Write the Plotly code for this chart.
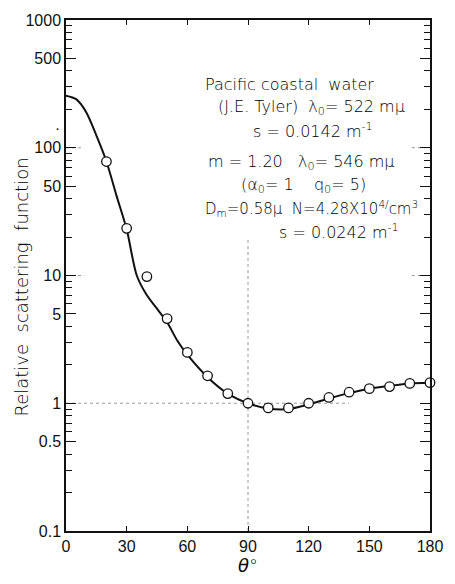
import plotly.graph_objects as go

# ---- data ----
curve_theta = [0, 5, 10, 15, 20, 25, 30, 35, 40, 45, 50, 55, 60, 70, 80, 90, 100, 110, 120, 130, 140, 150, 160, 170, 180]
curve_value = [256, 240, 190, 125, 78, 42, 23, 10, 7.0, 5.5, 4.3, 3.1, 2.4, 1.6, 1.19, 1.0, 0.91, 0.90, 0.98, 1.09, 1.2, 1.3, 1.37, 1.43, 1.45]

obs_theta = [20, 30, 40, 50, 60, 70, 80, 90, 100, 110, 120, 130, 140, 150, 160, 170, 180]
obs_value = [78, 23.4, 9.8, 4.6, 2.5, 1.64, 1.19, 1.0, 0.92, 0.92, 1.0, 1.11, 1.22, 1.30, 1.35, 1.43, 1.45]

x_ticks = [0, 30, 60, 90, 120, 150, 180]
y_ticks = [0.1, 0.5, 1, 5, 10, 50, 100, 500, 1000]
y_ticktext = ["0.1", "0.5", "1", "5", "10", "50", "100", "500", "1000"]
y_minor = [m * 10 ** e for e in (-1, 0, 1, 2) for m in (2, 3, 4, 6, 7, 8, 9)]

text_lines = [
    "Pacific coastal  water",
    "(J.E. Tyler)  λ<sub>0</sub>= 522 mμ",
    "s = 0.0142 m<sup>-1</sup>",
    "m = 1.20   λ<sub>0</sub>= 546 mμ",
    "(α<sub>0</sub>= 1    q<sub>0</sub>= 5)",
    "D<sub>m</sub>=0.58μ  N=4.28X10<sup>4/</sup>cm<sup>3</sup>",
    "s = 0.0242 m<sup>-1</sup>",
]
# (center x pixel, y pixel, font size) of the text lines
text_pos = [(296, 81, 16), (318, 104, 16), (320, 127, 16), (308, 160, 16),
            (310, 183, 16), (318, 207, 15), (346, 230, 16)]

TXT_FONT = "DejaVu Sans"
TICK_FONT = "Liberation Sans"
INK = "#111111"

fig = go.Figure()

# faint guide lines
guide = dict(color="#9a9a9a", width=1, dash="dot")
fig.add_shape(type="line", x0=90, x1=90, y0=0.1, y1=19, xref="x", yref="y", line=guide, layer="below")
fig.add_shape(type="line", x0=0, x1=140, y0=1, y1=1, xref="x", yref="y", line=guide, layer="below")
fig.add_shape(type="line", x0=0, x1=9, y0=100, y1=100, xref="x", yref="y", line=guide, layer="below")
fig.add_shape(type="line", x0=0, x1=9, y0=10, y1=10, xref="x", yref="y", line=guide, layer="below")
fig.add_shape(type="line", x0=171, x1=180, y0=100, y1=100, xref="x", yref="y", line=guide, layer="below")
fig.add_shape(type="line", x0=171, x1=180, y0=10, y1=10, xref="x", yref="y", line=guide, layer="below")

fig.add_trace(go.Scatter(x=curve_theta, y=curve_value, mode="lines",
                         line=dict(color=INK, width=2, shape="spline", smoothing=0.8),
                         showlegend=False, hoverinfo="skip", cliponaxis=False))
fig.add_trace(go.Scatter(x=obs_theta, y=obs_value, mode="markers",
                         marker=dict(symbol="circle", size=9.5, color="white",
                                     line=dict(color=INK, width=1.3)),
                         showlegend=False, cliponaxis=False))

L, R, T, B = 66, 15, 15, 49
W, H = 455, 584
pw, ph = W - L - R, H - T - B
for txt, (px, py, fs) in zip(text_lines, text_pos):
    fig.add_annotation(x=(px - L) / pw, y=(H - B - py) / ph, xref="paper", yref="paper",
                       text=txt, showarrow=False, xanchor="center", yanchor="middle",
                       font=dict(family=TXT_FONT, size=fs, color="#000000", weight=300))

# y-axis title (placed as rotated text)
fig.add_annotation(x=(20 - L) / pw, y=(H - B - 287) / ph, xref="paper", yref="paper",
                   text="Relative  scattering  function", textangle=-90, showarrow=False,
                   xanchor="center", yanchor="middle",
                   font=dict(family=TXT_FONT, size=18, color="#000000", weight=300))

# stray mark in the scan
fig.add_annotation(x=(54 - L) / pw, y=(H - B - 118) / ph, xref="paper", yref="paper",
                   text="•", showarrow=False, font=dict(size=8, color=INK))

fig.update_xaxes(range=[0, 180], tickvals=x_ticks, ticks="inside", ticklen=5,
                 tickcolor=INK, tickwidth=1, showline=True, linecolor=INK, linewidth=1.5,
                 mirror="ticks", showgrid=False, zeroline=False,
                 tickfont=dict(family=TICK_FONT, size=16, color=INK),
                 title=dict(text="<i>θ</i>°", font=dict(family=TXT_FONT, size=18, color="#000000", weight=300),
                            standoff=4))
fig.update_yaxes(type="log", range=[-1, 3], tickvals=y_ticks, ticktext=y_ticktext,
                 ticks="inside", ticklen=10, tickcolor=INK, tickwidth=1,
                 minor=dict(tickvals=y_minor, ticks="inside", ticklen=6, tickcolor=INK, tickwidth=1),
                 showline=True, linecolor=INK, linewidth=1.5, mirror="ticks",
                 showgrid=False, zeroline=False,
                 tickfont=dict(family=TICK_FONT, size=16, color=INK))

fig.update_layout(width=W, height=H, margin=dict(l=L, r=R, t=T, b=B),
                  paper_bgcolor="white", plot_bgcolor="white", showlegend=False)

fig.write_html("out.html")
